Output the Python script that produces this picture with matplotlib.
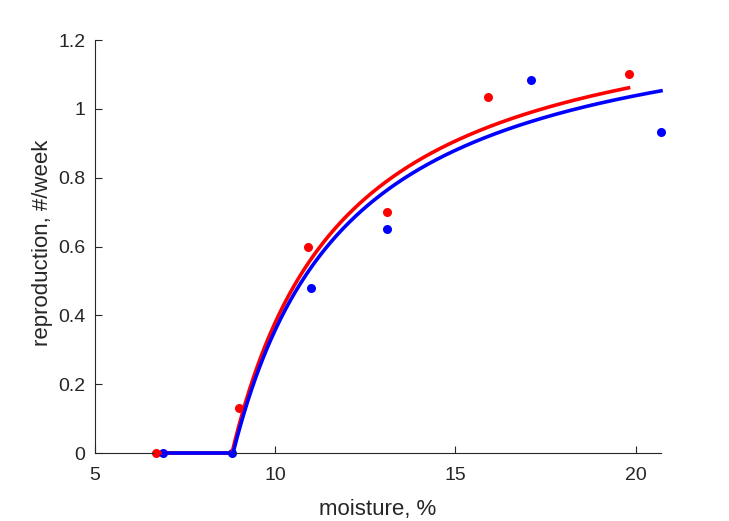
import numpy as np
import matplotlib
matplotlib.use("Agg")
import matplotlib.pyplot as plt

plt.rcParams['font.family'] = ['Liberation Sans', 'DejaVu Sans']

# measured points
x_red = [6.7, 9.0, 10.9, 13.1, 15.9, 19.8]
y_red = [0.0, 0.13, 0.60, 0.70, 1.035, 1.10]
x_blue = [6.9, 8.8, 11.0, 13.1, 17.1, 20.7]
y_blue = [0.0, 0.0, 0.48, 0.65, 1.085, 0.933]

# fitted saturating curves: y = a*(x-x0)/(b+(x-x0)) above threshold x0
fit_red = dict(a=1.36, b=3.1, x0=8.8)
fit_blue = dict(a=1.336, b=3.2, x0=8.83)

grey = '#262626'


def model(x, a, b, x0):
    d = np.clip(x - x0, 0, None)
    return a * d / (b + d)


fig = plt.figure(figsize=(7.29, 5.21), dpi=100)
ax = fig.add_axes([0.1303, 0.1305, 0.9067 - 0.1303, 0.9232 - 0.1305])

ax.plot(x_red, y_red, 'o', color='red', ms=6.5, mec='none', zorder=2, clip_on=False)
ax.plot(x_blue, y_blue, 'o', color='blue', ms=6.5, mec='none', zorder=2, clip_on=False)

xr = np.linspace(min(x_red), max(x_red), 400)
xb = np.linspace(min(x_blue), max(x_blue), 400)
ax.plot(xr, model(xr, **fit_red), color='red', lw=2.6, zorder=3, clip_on=False)
ax.plot(xb, model(xb, **fit_blue), color='blue', lw=2.6, zorder=4, clip_on=False)

ax.set_xlim(5, 20.7)
ax.set_ylim(0, 1.2)
ax.set_xticks([5, 10, 15, 20])
ax.set_xticklabels(['5', '10', '15', '20'])
ax.set_yticks([0, 0.2, 0.4, 0.6, 0.8, 1.0, 1.2])
ax.set_yticklabels(['0', '0.2', '0.4', '0.6', '0.8', '1', '1.2'])

for s in ['top', 'right']:
    ax.spines[s].set_visible(False)
for s in ['left', 'bottom']:
    ax.spines[s].set_color(grey)
    ax.spines[s].set_linewidth(0.8)
ax.tick_params(direction='in', length=5, width=0.8, colors=grey, labelsize=14)
ax.tick_params(axis='x', pad=10)
ax.tick_params(axis='y', pad=7)

ax.set_xlabel('moisture, %', fontsize=16, color=grey, labelpad=11)
ax.set_ylabel('reproduction, #/week', fontsize=16, color=grey, labelpad=2)
ax.yaxis.set_label_coords(-0.075, 0.51)

fig.savefig('out.png', dpi=100)
